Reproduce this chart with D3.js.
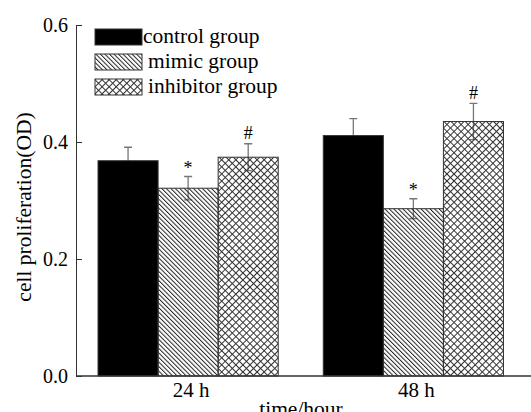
<!DOCTYPE html>
<meta charset="utf-8">
<style>
body { margin: 0; background: #fff; }
svg text { font-family: "Liberation Serif", "Times New Roman", Times, serif; fill: #000; }
.tick text { font-size: 20px; }
.label, .legend text { font-size: 21.5px; }
.xlab { font-size: 21px; }
.mark { font-size: 18px; }
</style>
<body>
<script src="https://d3js.org/d3.v7.min.js"></script>
<script>
var w = 531, h = 412;

var groups = ["24 h", "48 h"];
var series = ["control group", "mimic group", "inhibitor group"];
var control = [0.368, 0.411],
    mimic = [0.321, 0.286],
    inhibitor = [0.374, 0.435];
var controlErr = [0.023, 0.029],
    mimicErr = [0.020, 0.017],
    inhibitorErr = [0.023, 0.031];
var mimicMark = ["*", "*"],
    inhibitorMark = ["#", "#"];
var yTicks = [0, 0.2, 0.4, 0.6];

var values = [control, mimic, inhibitor],
    errs = [controlErr, mimicErr, inhibitorErr],
    marks = [["", ""], mimicMark, inhibitorMark],
    fills = ["#000", "url(#hatch)", "url(#cross)"];

var data = [];
groups.forEach(function(g, gi) {
  series.forEach(function(s, si) {
    data.push({group: g, series: s, si: si, value: values[si][gi], err: errs[si][gi], mark: marks[si][gi]});
  });
});

var svg = d3.select("body").append("svg")
    .attr("width", w)
    .attr("height", h);

/* patterns (transparent gaps so the error bar behind shows through) */
var defs = svg.append("defs");
var hatch = defs.append("pattern")
    .attr("id", "hatch")
    .attr("patternUnits", "userSpaceOnUse")
    .attr("width", 3.2).attr("height", 3.2)
    .attr("patternTransform", "rotate(-45)");
hatch.append("line").attr("x1", 0.5).attr("x2", 0.5).attr("y1", 0).attr("y2", 3.2)
    .attr("stroke", "#222").attr("stroke-width", 1);

var cross = defs.append("pattern")
    .attr("id", "cross")
    .attr("patternUnits", "userSpaceOnUse")
    .attr("width", 5).attr("height", 5)
    .attr("patternTransform", "rotate(45)");
cross.append("line").attr("x1", 0.5).attr("x2", 0.5).attr("y1", 0).attr("y2", 5)
    .attr("stroke", "#333").attr("stroke-width", 1);
cross.append("line").attr("y1", 0.5).attr("y2", 0.5).attr("x1", 0).attr("x2", 5)
    .attr("stroke", "#333").attr("stroke-width", 1);

var x0 = d3.scaleBand().domain(groups).range([75.5, 526]).paddingInner(0.2).paddingOuter(0.1);
var x1 = d3.scaleBand().domain(series).range([0, x0.bandwidth()]);
var y = d3.scaleLinear().domain([0, 0.6]).range([376, 25]);

var bar = svg.selectAll("g.bar")
    .data(data)
  .enter().append("g")
    .attr("class", "bar")
    .attr("transform", function(d) { return "translate(" + (x0(d.group) + x1(d.series)) + ",0)"; });

/* error bars first, bars drawn over them */
var cx = x1.bandwidth() / 2, cap = 4;
bar.append("path")
    .attr("fill", "none")
    .attr("stroke", "#777")
    .attr("stroke-width", 1.3)
    .attr("d", function(d) {
      var t = y(d.value + d.err), b = y(d.value - d.err);
      return "M" + cx + "," + t + "V" + b +
        "M" + (cx - cap) + "," + t + "H" + (cx + cap) +
        "M" + (cx - cap) + "," + b + "H" + (cx + cap);
    });

bar.append("rect")
    .attr("width", x1.bandwidth())
    .attr("y", function(d) { return y(d.value); })
    .attr("height", function(d) { return y(0) - y(d.value); })
    .attr("fill", function(d) { return fills[d.si]; })
    .attr("stroke", "#333")
    .attr("stroke-width", 1);

bar.append("text")
    .attr("class", "mark")
    .attr("x", cx)
    .attr("y", function(d) { return y(d.value + d.err) - (d.mark === "#" ? 4.5 : 2.5); })
    .attr("text-anchor", "middle")
    .text(function(d) { return d.mark; });

/* axes */
var yAxis = svg.append("g")
    .attr("transform", "translate(76,0)")
    .call(d3.axisLeft(y).tickValues(yTicks).tickFormat(d3.format(".1f")).tickSizeInner(-6).tickSizeOuter(0).tickPadding(8))
    .attr("font-family", null)
    .attr("font-size", null);
yAxis.select(".domain").attr("stroke", "#333");
yAxis.selectAll(".tick line").attr("stroke", "#333");

svg.append("line")
    .attr("x1", 76).attr("x2", w)
    .attr("y1", y(0)).attr("y2", y(0))
    .attr("stroke", "#333")
    .attr("stroke-width", 1.3);

svg.selectAll("text.xlab")
    .data(groups)
  .enter().append("text")
    .attr("class", "xlab")
    .attr("x", function(d) { return x0(d) + x0.bandwidth() / 2 + 3; })
    .attr("y", 397)
    .attr("text-anchor", "middle")
    .text(function(d) { return d; });

svg.append("text")
    .attr("class", "label")
    .attr("x", 301)
    .attr("y", 416)
    .attr("text-anchor", "middle")
    .text("time/hour");

svg.append("text")
    .attr("class", "label")
    .attr("transform", "translate(31,207) rotate(-90)")
    .attr("text-anchor", "middle")
    .text("cell proliferation(OD)");

/* legend */
var legend = svg.selectAll("g.legend")
    .data(series)
  .enter().append("g")
    .attr("class", "legend")
    .attr("transform", function(d, i) { return "translate(95," + (29 + i * 25) + ")"; });

legend.append("rect")
    .attr("width", 47)
    .attr("height", 16)
    .attr("fill", function(d, i) { return fills[i]; })
    .attr("stroke", "#333");

legend.append("text")
    .attr("x", function(d, i) { return i === 0 ? 48 : 53; })
    .attr("y", 14)
    .text(function(d) { return d; });
</script>
